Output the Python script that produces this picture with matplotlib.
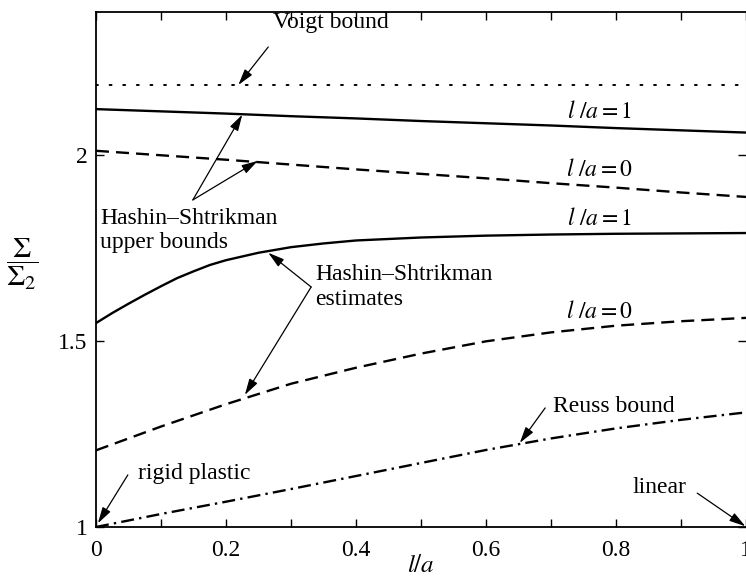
import numpy as np
import matplotlib
matplotlib.use('Agg')
import matplotlib.pyplot as plt
from matplotlib.ticker import MultipleLocator

plt.rcParams['font.family'] = ['Liberation Serif', 'DejaVu Serif']
plt.rcParams['mathtext.fontset'] = 'stix'

# values (l/a on x, Sigma/Sigma_2 on y)
x_voigt = [0.0, 1.0]
voigt = [2.188, 2.188]

x_lin = [0.0, 0.1, 0.2, 0.3, 0.4, 0.5, 0.6, 0.7, 0.8, 0.9, 1.0]
hs_upper_1 = [2.123, 2.117, 2.111, 2.104, 2.098, 2.091, 2.085, 2.079, 2.072, 2.066, 2.060]
hs_upper_0 = [2.011, 1.999, 1.987, 1.974, 1.961, 1.949, 1.937, 1.924, 1.912, 1.899, 1.887]
hs_est_0 = [1.206, 1.270, 1.330, 1.385, 1.428, 1.466, 1.499, 1.523, 1.541, 1.553, 1.562]
reuss = [1.000, 1.035, 1.068, 1.102, 1.137, 1.172, 1.207, 1.238, 1.265, 1.288, 1.308]

x_est1 = [0.0, 0.025, 0.05, 0.075, 0.1, 0.125, 0.15, 0.175, 0.2, 0.25, 0.3, 0.35,
          0.4, 0.5, 0.6, 0.7, 0.8, 0.9, 1.0]
hs_est_1 = [1.548, 1.575, 1.600, 1.624, 1.647, 1.669, 1.687, 1.704, 1.717, 1.737,
            1.752, 1.762, 1.770, 1.778, 1.783, 1.786, 1.788, 1.789, 1.790]

fig = plt.figure(figsize=(7.46, 5.78), dpi=100)
ax = fig.add_axes([96 / 746, 51 / 578, 650 / 746, 515 / 578])

lw = 1.7
ax.plot(x_voigt, voigt, color='k', lw=1.4, linestyle=(0, (1, 6)), dash_capstyle='round')
ax.plot(x_lin, hs_upper_1, color='k', lw=lw)
ax.plot(x_lin, hs_upper_0, color='k', lw=lw, linestyle=(0, (5.5, 3)))
ax.plot(x_est1, hs_est_1, color='k', lw=lw)
ax.plot(x_lin, hs_est_0, color='k', lw=lw, linestyle=(0, (5.5, 3)))
ax.plot(x_lin, reuss, color='k', lw=lw, linestyle=(0, (5.5, 2.2, 1, 2.2)))

ax.set_xlim(0, 1)
ax.set_ylim(1, 2.384)
ax.xaxis.set_minor_locator(MultipleLocator(0.1))
ax.set_xticks([0, 0.2, 0.4, 0.6, 0.8, 1.0])
ax.set_xticklabels(['0', '0.2', '0.4', '0.6', '0.8', '1'])
ax.set_yticks([1, 1.5, 2])
ax.set_yticklabels(['1', '1.5', '2'])
ax.tick_params(axis='x', which='both', direction='in', top=True, length=6, width=1, labelsize=17, pad=9)
ax.tick_params(axis='y', which='both', direction='in', right=True, length=6, width=1, labelsize=17, pad=6)
for s in ['left', 'bottom', 'top']:
    ax.spines[s].set_linewidth(1.3)
ax.spines['right'].set_linewidth(0.8)
ax.spines['right'].set_color('#bbbbbb')

ax.set_xlabel('$l/a$', fontsize=18, labelpad=-4)
ax.text(-0.114, 0.509, r'$\dfrac{\Sigma}{\Sigma_2}$', transform=ax.transAxes,
        fontsize=21, ha='center', va='center')

# curve labels
fs = 17
ax.text(0.775, 2.116, r'$l\ /a = 1$', fontsize=fs, ha='center', va='center')
ax.text(0.775, 1.960, r'$l\ /a = 0$', fontsize=fs, ha='center', va='center')
ax.text(0.775, 1.828, r'$l\ /a = 1$', fontsize=fs, ha='center', va='center')
ax.text(0.775, 1.578, r'$l\ /a = 0$', fontsize=fs, ha='center', va='center')

arrow = dict(arrowstyle='-|>,head_length=0.7,head_width=0.2', lw=0.9, color='k',
             shrinkA=0, shrinkB=0, mutation_scale=14)

ax.text(0.272, 2.357, 'Voigt bound', fontsize=fs, ha='left', va='center')
ax.annotate('', xy=(0.219, 2.188), xytext=(0.265, 2.29), arrowprops=arrow)

ax.text(0.006, 1.796, 'Hashin\u2013Shtrikman\nupper bounds', fontsize=fs, ha='left',
        va='center', linespacing=1.2)
ax.annotate('', xy=(0.225, 2.108), xytext=(0.149, 1.879), arrowprops=arrow)
ax.annotate('', xy=(0.249, 1.984), xytext=(0.149, 1.879), arrowprops=arrow)

ax.text(0.337, 1.645, 'Hashin\u2013Shtrikman\nestimates', fontsize=fs, ha='left',
        va='center', linespacing=1.2)
ax.annotate('', xy=(0.265, 1.737), xytext=(0.331, 1.645), arrowprops=arrow)
ax.annotate('', xy=(0.229, 1.355), xytext=(0.331, 1.645), arrowprops=arrow)

ax.text(0.703, 1.323, 'Reuss bound', fontsize=fs, ha='left', va='center')
ax.annotate('', xy=(0.652, 1.226), xytext=(0.691, 1.320), arrowprops=arrow)

ax.text(0.826, 1.105, 'linear', fontsize=fs, ha='left', va='center')
ax.annotate('', xy=(0.999, 1.002), xytext=(0.925, 1.091), arrowprops=arrow)

ax.text(0.065, 1.145, 'rigid plastic', fontsize=fs, ha='left', va='center')
ax.annotate('', xy=(0.003, 1.01), xytext=(0.049, 1.14), arrowprops=arrow)

fig.savefig('out.png', dpi=100)
